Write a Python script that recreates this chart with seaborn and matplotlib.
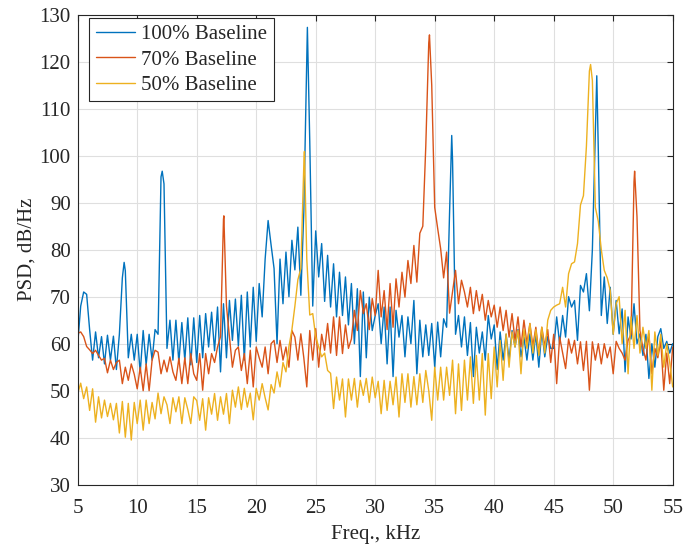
import numpy as np
import pandas as pd
import matplotlib
matplotlib.use("Agg")
import matplotlib.pyplot as plt
import seaborn as sns

# PSD bins, 0.25 kHz apart (5 .. 55 kHz)
freq = np.arange(5, 55.001, 0.25)

psd_100 = [
    60, 68, 71, 70.5, 63, 56.5, 62.5, 57, 61.5, 55.7, 61.8, 56.5, 61.6, 54.5, 62, 74, 75.5, 57, 62, 56.5,
    62, 53.8, 62.8, 55.5, 62, 56.5, 63, 62, 95.5, 94, 59, 65, 56.5, 65, 56, 64.5, 56.5, 65.5, 55.5, 65.5,
    56, 66, 57, 66.4, 59.3, 66.7, 58.5, 67.8, 54, 68.5, 57, 69.2, 60.7, 69.5, 59.5, 70.3, 56.5, 71, 59.3, 72,
    60.5, 72.8, 65.7, 78, 86.2, 81, 76, 60, 78, 68.5, 79.5, 70, 82, 75.7, 84.8, 70.3, 88, 121, 103, 68,
    84, 74.2, 81.3, 69, 78.8, 67.8, 77, 65.7, 75.2, 66, 74.2, 64, 72.8, 60, 71.7, 53, 71, 57, 69.9, 62.8,
    66, 68.5, 60, 67.8, 55.7, 67.8, 53, 67.1, 61.4, 66, 57.2, 65.7, 60, 69.2, 53.6, 65, 57.2, 64, 57.5, 64.3,
    55, 64.6, 57.2, 65.3, 63.5, 88, 99, 62, 66, 59.3, 65.7, 57.5, 64.5, 53, 63.5, 58, 62.5, 56.5, 66, 61,
    64, 54.5, 62.5, 56.5, 62, 56.5, 62.8, 59.3, 63, 57.2, 61.4, 56.5, 62.1, 56.5, 62.1, 55, 62.8, 57.2, 61.5, 59,
    59, 65.7, 60, 66, 61.4, 70, 67.8, 69.2, 60.7, 72.4, 71, 74.9, 67, 80, 105, 101, 66, 74.2, 64.3, 72,
    62, 69.2, 62.1, 67.4, 54, 65.7, 61, 68.5, 60, 62.1, 57.5, 62, 52.6, 60, 55, 61.5, 63.2, 59, 60.5, 58,
    60,
]
psd_70 = [
    62.2, 62.5, 61.5, 59.4, 58.7, 57.9, 58.6, 57.5, 56.5, 56.9, 53.8, 56.5, 54.5, 56, 56.5, 51.5, 55, 52.2, 55.7, 53.5,
    50.4, 55, 50, 55.7, 50, 56.5, 58.6, 58.2, 53.6, 56.5, 54, 57.2, 54, 52.2, 56.9, 51.5, 57, 51.5, 57.9, 53.6,
    52.2, 57.9, 50.1, 57.9, 53.6, 57.9, 56, 59.3, 61.5, 86.5, 68, 61.5, 55, 58.6, 59.3, 54.3, 57.9, 51.5, 58.6, 50.8,
    59.3, 57, 55, 59.3, 53.6, 60, 60.7, 56, 60.7, 56.5, 59.3, 55, 62.8, 61.4, 56.5, 62.1, 57, 50.8, 62.8, 56.5,
    63.2, 55, 62, 58.6, 64.3, 58, 65.7, 57.5, 65.7, 57.9, 64, 59, 61, 67.1, 62.8, 71.3, 66.4, 68.5, 63, 69.6,
    66, 75.6, 65.7, 71.3, 63, 72.8, 63.5, 73.8, 67.8, 75.2, 69.9, 77.7, 72.8, 80.9, 73.1, 83.5, 85, 102, 124, 115,
    89, 84.5, 80.2, 74, 79.5, 66.5, 71, 75.6, 68.5, 73.5, 71, 67.8, 72, 66.4, 71.3, 67, 70.5, 65, 69.2, 65.7,
    68.2, 63.5, 67.8, 62.8, 67.1, 61.4, 66.4, 60.7, 65.7, 59.3, 65, 60, 64.3, 59.5, 63.5, 57.9, 63.5, 59.5, 63, 56,
    62, 51.5, 61.4, 58, 54.7, 61, 58, 60.7, 55.7, 60.4, 54.3, 60.5, 50.1, 60.4, 56.5, 60, 55.7, 60, 57, 59.3,
    53.6, 60.5, 59, 58, 56.5, 60.7, 62, 94.5, 87, 62.8, 59, 56.5, 62.1, 53.6, 59, 57, 60.5, 50.1, 58, 51.5,
    59.3,
]
psd_50 = [
    49.4, 51.6, 48.3, 50.8, 45.8, 50.4, 43.3, 48.7, 44.2, 48, 44.5, 47.3, 43.8, 47.3, 41, 47.7, 40.1, 47.3, 39.5, 47.5,
    43, 48, 41.6, 48, 43, 47.5, 44, 49.5, 45.1, 48.7, 47, 43, 48.5, 45.5, 48.7, 43, 48.5, 46, 43, 48.7,
    47.9, 43.7, 48.3, 41.6, 48.5, 45, 49.4, 43.7, 48.7, 45, 49.4, 43, 50.1, 46.5, 50.8, 46, 50.5, 46.5, 49.5, 43.8,
    50.5, 48, 51.5, 48.5, 45.9, 51.3, 49.5, 54, 50.8, 56, 54, 59.4, 63, 68, 73.6, 76, 98, 78, 66.1, 66.4,
    61.5, 59.3, 57.2, 58, 54.3, 53.7, 46.2, 52.9, 48, 52.5, 44.4, 52.5, 48, 52.6, 46.5, 52.2, 49, 52.6, 47.5, 52.9,
    48.5, 52, 45.1, 52.2, 45.8, 52, 47, 52.9, 44.4, 53.6, 47.5, 53.6, 46.5, 53, 47, 53.6, 47.5, 54.3, 50, 43.7,
    55, 48, 55, 48, 55, 49, 56.5, 45.1, 55.7, 45.8, 56.5, 48, 57.2, 47.3, 57.5, 48, 57.9, 44.8, 57.9, 48.3,
    59.3, 50.8, 60.7, 52.2, 62.1, 55, 62.5, 59.3, 62.8, 53.6, 63, 59, 64.3, 58, 63, 57.5, 63.5, 58, 65, 67.1,
    67.8, 68.2, 68.5, 72, 67.8, 74.9, 77, 77.4, 81.3, 89.5, 91.5, 102, 118, 116, 89, 86, 80, 75.6, 74, 71.3,
    62, 68.5, 70, 60, 67.1, 53.6, 65.7, 59, 66, 58, 63.5, 59, 62.8, 50.1, 62.5, 57.5, 62, 55, 60, 56,
    50.8,
]

# tonal peak tops that fall between bins
peak_f_100 = [8.9, 12.1, 24.3, 36.43, 48.62]
peak_v_100 = [77.3, 96.7, 127.3, 104.3, 117.0]
peak_f_70 = [17.28, 34.56, 51.8]
peak_v_70 = [87.2, 125.7, 96.7]
peak_f_50 = [24.05, 48.1]
peak_v_50 = [100.9, 119.4]

labels = ["100% Baseline", "70% Baseline", "50% Baseline"]
colors = ["#0072BD", "#D95319", "#EDB120"]

frames = []
for lab, v, pf, pv in zip(labels, [psd_100, psd_70, psd_50],
                          [peak_f_100, peak_f_70, peak_f_50],
                          [peak_v_100, peak_v_70, peak_v_50]):
    frames.append(pd.DataFrame({"freq": np.concatenate([freq, pf]),
                                "psd": np.concatenate([v, pv]),
                                "case": lab}))
df = pd.concat(frames, ignore_index=True)

sns.set_theme(style="whitegrid")
plt.rcParams["font.family"] = ["Liberation Serif", "DejaVu Serif"]

fig = plt.figure(figsize=(6.86, 5.46), dpi=100)
ax = fig.add_axes([0.1133, 0.1123, 0.8673, 0.8608])
sns.lineplot(data=df, x="freq", y="psd", hue="case", hue_order=labels,
             palette=colors, estimator=None, sort=True, linewidth=1.0, ax=ax)

ax.set_xlim(5, 55)
ax.set_ylim(30, 130)
ax.set_xticks(range(5, 56, 5))
ax.set_yticks(range(30, 131, 10))
ax.grid(True, color="#dfdfdf", linewidth=0.8)
ax.set_axisbelow(True)
ax.tick_params(direction="in", length=4, width=0.8, top=True, right=True,
               labelsize=15, colors="#262626")
ax.tick_params(axis="x", pad=10)
ax.tick_params(axis="y", pad=5)
for s in ax.spines.values():
    s.set_color("#262626")
    s.set_linewidth(0.8)
ax.set_xlabel("Freq., kHz", fontsize=15, color="#262626", labelpad=5)
ax.set_ylabel("PSD, dB/Hz", fontsize=15, color="#262626", labelpad=2)

leg = ax.legend(loc="upper left", bbox_to_anchor=(0.0195, 0.992), fontsize=15,
                frameon=True, fancybox=False, framealpha=1, edgecolor="#262626",
                handlelength=1.9, handletextpad=0.3, labelspacing=0.28,
                borderpad=0.3, borderaxespad=0)
leg.get_frame().set_linewidth(0.8)

fig.savefig("out.png", dpi=100)
